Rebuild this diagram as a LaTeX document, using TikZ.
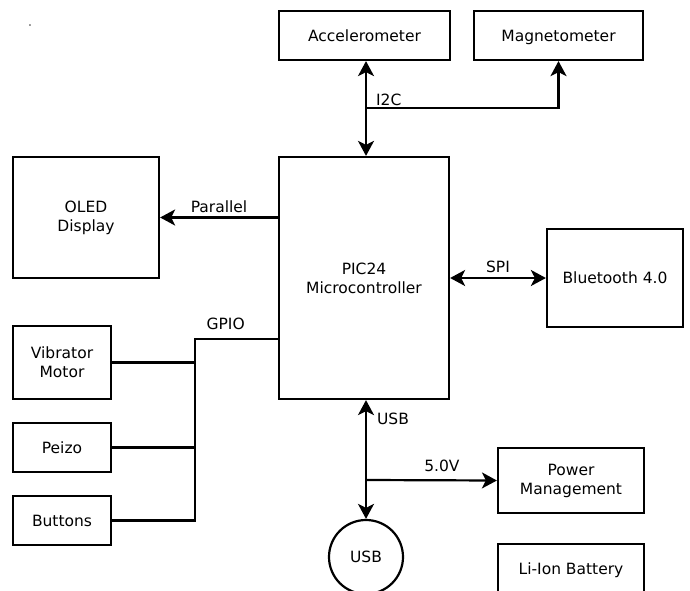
\documentclass[tikz,border=0pt]{standalone}
\usepackage{fontspec}
\setmainfont{DejaVu Sans}
\usetikzlibrary{arrows.meta}
\begin{document}
		\begin{tikzpicture}[x=1pt, y=-1pt, line width=2.2pt, font=\fontsize{15.5}{19}\selectfont,
				>={Stealth[length=15pt, width=16pt, inset=4pt]}]
			\clip (0,0) rectangle (690,591);
			\node (dot) [gray, inner sep=0pt] at (30,26) {.};
			\begin{scope}[every node/.style = {shape=rectangle, draw, align=center, inner sep=0pt}]
				\tikzstyle{oneline}=[text depth=0pt]
				\node (accel) [oneline, minimum width=171, minimum height=49] at (364.5,35.5) {Accelerometer};
				\node (magnet) [oneline, minimum width=169, minimum height=49] at (558.5,35.5) {Magnetometer};
				\node (pic24) [minimum width=170, minimum height=242] at (364,278) {PIC24\\Microcontroller};
				\node (oled) [minimum width=146, minimum height=121] at (86,217.5) {OLED\\Display};
				\node (bt) [oneline, minimum width=136, minimum height=98] at (615,278) {Bluetooth 4.0};
				\node (vibr) [minimum width=98, minimum height=73] at (62,362.5) {Vibrator\\Motor};
				\node (peizo) [oneline, minimum width=98, minimum height=49] at (62,447.5) {Peizo};
				\node (buttons) [oneline, minimum width=98, minimum height=49] at (62,520.5) {Buttons};
				\node (power) [minimum width=146, minimum height=65] at (571,480.5) {Power\\Management};
				\node (battery) [oneline, minimum width=146, minimum height=50] at (571,569) {Li-Ion Battery};
				\node (usb) [oneline, circle, minimum size=74] at (366,557) {USB};
			\end{scope}

			\coordinate (i2c) at (366,108);
			\coordinate (gpio) at (195,339);
			\coordinate (v5) at (366,480);

			\draw [<->] (i2c |- accel.south) -- (i2c |- pic24.north);
			\draw [->] (i2c) -| (magnet.south);
			\path (i2c) -- (i2c -| magnet.south) node [above right, pos=0, inner sep=2pt, xshift=7pt, yshift=-1pt] {I2C};
			\draw [->] (pic24.west |- oled.east) -- (oled.east) node [above, pos=0.5, inner sep=3pt, yshift=1pt] {Parallel};
			\draw [<->] (pic24.east |- bt.west) -- (bt.west) node [above, pos=0.5, inner sep=3pt, yshift=1pt] {SPI};
			\draw (pic24.west |- gpio) -- (gpio) -- (gpio |- buttons.east) -- (buttons.east);
			\draw (vibr.east) -- (vibr.east -| gpio);
			\draw (peizo.east) -- (peizo.east -| gpio);
			\path (gpio) -- (pic24.west |- gpio) node [above, pos=0.37, inner sep=5pt, yshift=3pt] {GPIO};
			\draw [<->] (usb.north |- pic24.south) -- (usb.north);
			\path (usb.north |- pic24.south) -- (usb.north) node [right, pos=0.16, inner sep=3pt, xshift=7pt] {USB};
			\draw [->] (v5) -- (power.west) node [above, pos=0.58, inner sep=5pt, yshift=2pt] {5.0V};
		\end{tikzpicture}
\end{document}
